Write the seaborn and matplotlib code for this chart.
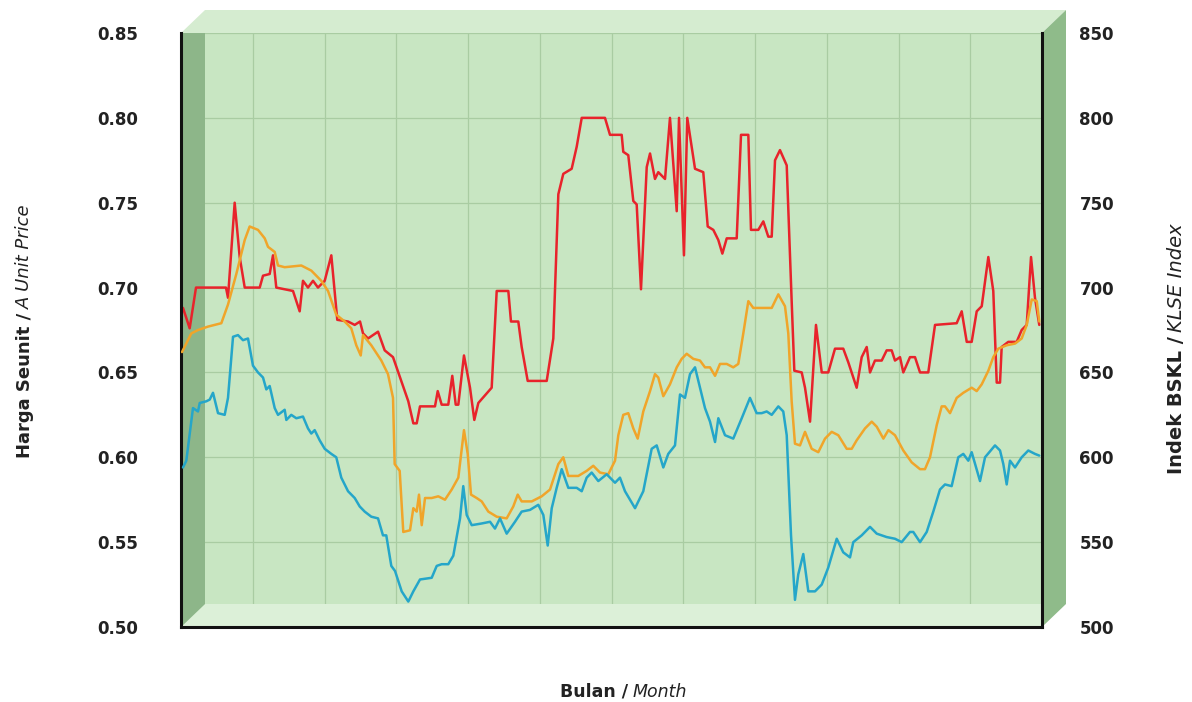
import matplotlib
matplotlib.use("Agg")
import matplotlib.pyplot as plt
from matplotlib.patches import Polygon
import pandas as pd
import seaborn as sns

# ---------------- data ----------------
month_grid = list(range(13))
price_ticks = [0.50, 0.55, 0.60, 0.65, 0.70, 0.75, 0.80, 0.85]
index_ticks = [500, 550, 600, 650, 700, 750, 800, 850]

# unit price (left axis): (month position, price)
unit_price = [
    (0.028, 0.688), (0.121, 0.676), (0.209, 0.700), (0.627, 0.700), (0.655, 0.694),
    (0.748, 0.750), (0.818, 0.718), (0.888, 0.700), (1.097, 0.700), (1.143, 0.707),
    (1.236, 0.708), (1.282, 0.719), (1.328, 0.700), (1.561, 0.698), (1.654, 0.686),
    (1.700, 0.704), (1.770, 0.700), (1.840, 0.704), (1.909, 0.700), (2.003, 0.704),
    (2.095, 0.719), (2.178, 0.681), (2.328, 0.680), (2.421, 0.678), (2.495, 0.680),
    (2.537, 0.673), (2.606, 0.670), (2.746, 0.674), (2.839, 0.663), (2.955, 0.659),
    (3.168, 0.633), (3.238, 0.620), (3.285, 0.620), (3.331, 0.630), (3.540, 0.630),
    (3.578, 0.639), (3.633, 0.631), (3.725, 0.631), (3.781, 0.648), (3.829, 0.631),
    (3.865, 0.631), (3.944, 0.660), (4.028, 0.641), (4.088, 0.622), (4.144, 0.632),
    (4.330, 0.641), (4.400, 0.698), (4.562, 0.698), (4.599, 0.680), (4.701, 0.680),
    (4.748, 0.665), (4.832, 0.645), (5.097, 0.645), (5.189, 0.670), (5.259, 0.755),
    (5.328, 0.767), (5.445, 0.770), (5.515, 0.783), (5.585, 0.800), (5.909, 0.800),
    (5.979, 0.790), (6.142, 0.790), (6.164, 0.780), (6.234, 0.778), (6.304, 0.751),
    (6.351, 0.749), (6.411, 0.699), (6.491, 0.771), (6.537, 0.779), (6.606, 0.764),
    (6.652, 0.768), (6.746, 0.764), (6.815, 0.800), (6.909, 0.745), (6.941, 0.800),
    (7.010, 0.719), (7.056, 0.800), (7.164, 0.770), (7.279, 0.768), (7.341, 0.736),
    (7.419, 0.734), (7.489, 0.728), (7.545, 0.720), (7.606, 0.729), (7.745, 0.729),
    (7.805, 0.790), (7.907, 0.790), (7.944, 0.734), (8.046, 0.734), (8.116, 0.739),
    (8.185, 0.730), (8.233, 0.730), (8.279, 0.775), (8.348, 0.781), (8.442, 0.772),
    (8.511, 0.692), (8.548, 0.651), (8.651, 0.650), (8.697, 0.641), (8.767, 0.621),
    (8.850, 0.678), (8.930, 0.650), (9.021, 0.650), (9.115, 0.664), (9.230, 0.664),
    (9.300, 0.656), (9.417, 0.641), (9.487, 0.659), (9.557, 0.665), (9.603, 0.650),
    (9.672, 0.657), (9.766, 0.657), (9.835, 0.663), (9.905, 0.663), (9.951, 0.657),
    (10.021, 0.659), (10.067, 0.650), (10.160, 0.659), (10.230, 0.659), (10.300, 0.650),
    (10.415, 0.650), (10.509, 0.678), (10.811, 0.679), (10.881, 0.686), (10.951, 0.668),
    (11.020, 0.668), (11.090, 0.686), (11.160, 0.689), (11.252, 0.718), (11.321, 0.698),
    (11.369, 0.644), (11.415, 0.644), (11.438, 0.665), (11.530, 0.668), (11.647, 0.668),
    (11.717, 0.675), (11.787, 0.678), (11.847, 0.718), (11.902, 0.694), (11.962, 0.678),
]

# index series (right axis): (month position, index level)
index_orange = [
    (0.014, 662), (0.144, 673), (0.237, 675), (0.376, 677), (0.562, 679), (0.655, 690),
    (0.771, 708), (0.888, 728), (0.957, 736), (1.073, 734), (1.167, 729), (1.213, 724),
    (1.306, 721), (1.352, 713), (1.445, 712), (1.677, 713), (1.816, 710), (1.955, 704),
    (2.049, 698), (2.164, 684), (2.282, 680), (2.373, 676), (2.443, 666), (2.505, 660),
    (2.537, 672), (2.652, 666), (2.792, 657), (2.885, 649), (2.955, 635), (2.978, 596),
    (3.048, 592), (3.098, 556), (3.192, 557), (3.238, 570), (3.285, 568), (3.317, 578),
    (3.355, 560), (3.401, 576), (3.494, 576), (3.586, 577), (3.679, 575), (3.773, 581),
    (3.865, 588), (3.944, 616), (3.996, 602), (4.042, 578), (4.121, 576), (4.191, 574),
    (4.283, 568), (4.400, 565), (4.539, 564), (4.631, 571), (4.693, 578), (4.748, 574),
    (4.888, 574), (5.027, 577), (5.143, 581), (5.259, 596), (5.328, 600), (5.398, 589),
    (5.537, 589), (5.654, 592), (5.746, 595), (5.840, 591), (5.955, 590), (6.049, 598),
    (6.095, 613), (6.164, 625), (6.234, 626), (6.304, 617), (6.365, 611), (6.443, 627),
    (6.537, 639), (6.606, 649), (6.652, 647), (6.722, 636), (6.815, 643), (6.909, 653),
    (6.978, 658), (7.048, 661), (7.140, 658), (7.233, 657), (7.303, 653), (7.373, 653),
    (7.443, 648), (7.512, 655), (7.606, 655), (7.697, 653), (7.767, 655), (7.837, 673),
    (7.907, 692), (7.976, 688), (8.093, 688), (8.233, 688), (8.325, 696), (8.418, 689),
    (8.464, 673), (8.511, 633), (8.557, 608), (8.627, 607), (8.697, 615), (8.790, 605),
    (8.882, 603), (8.976, 611), (9.069, 615), (9.161, 613), (9.278, 605), (9.348, 605),
    (9.417, 610), (9.533, 617), (9.627, 621), (9.697, 618), (9.789, 611), (9.859, 616),
    (9.951, 613), (10.067, 604), (10.184, 597), (10.300, 593), (10.369, 593), (10.439, 600),
    (10.533, 619), (10.602, 630), (10.648, 630), (10.718, 626), (10.811, 635), (10.903, 638),
    (11.020, 641), (11.090, 639), (11.160, 643), (11.252, 651), (11.321, 659), (11.391, 664),
    (11.508, 666), (11.624, 667), (11.717, 670), (11.787, 678), (11.857, 693), (11.927, 692),
    (11.962, 680),
]

index_blue = [
    (0.028, 594), (0.074, 598), (0.167, 629), (0.237, 627), (0.261, 632), (0.353, 633),
    (0.400, 634), (0.446, 638), (0.516, 626), (0.609, 625), (0.655, 635), (0.725, 671),
    (0.794, 672), (0.864, 669), (0.934, 670), (1.003, 654), (1.073, 650), (1.143, 647),
    (1.189, 640), (1.236, 642), (1.306, 629), (1.352, 625), (1.445, 628), (1.468, 622),
    (1.537, 625), (1.607, 623), (1.700, 624), (1.770, 617), (1.816, 614), (1.863, 616),
    (1.933, 610), (2.003, 605), (2.095, 602), (2.164, 600), (2.234, 588), (2.328, 580),
    (2.421, 576), (2.491, 571), (2.560, 568), (2.652, 565), (2.746, 564), (2.815, 554),
    (2.861, 554), (2.931, 536), (2.983, 533), (3.076, 521), (3.168, 515), (3.238, 521),
    (3.331, 528), (3.494, 529), (3.564, 536), (3.633, 537), (3.725, 537), (3.795, 542),
    (3.889, 564), (3.934, 583), (3.982, 566), (4.052, 560), (4.191, 561), (4.307, 562),
    (4.376, 558), (4.446, 564), (4.539, 555), (4.655, 562), (4.748, 568), (4.864, 569),
    (4.980, 572), (5.050, 566), (5.111, 548), (5.167, 570), (5.236, 582), (5.306, 593),
    (5.398, 582), (5.515, 582), (5.585, 580), (5.654, 588), (5.724, 591), (5.816, 586),
    (5.933, 590), (6.049, 585), (6.118, 588), (6.188, 580), (6.328, 570), (6.443, 580),
    (6.560, 605), (6.630, 607), (6.722, 594), (6.791, 602), (6.885, 607), (6.955, 637),
    (7.024, 635), (7.094, 649), (7.164, 653), (7.233, 641), (7.303, 629), (7.373, 621),
    (7.443, 609), (7.489, 623), (7.582, 613), (7.697, 611), (7.815, 623), (7.930, 635),
    (8.023, 626), (8.093, 626), (8.163, 627), (8.233, 625), (8.325, 630), (8.394, 627),
    (8.442, 613), (8.502, 554), (8.557, 516), (8.603, 531), (8.673, 543), (8.743, 521),
    (8.836, 521), (8.930, 525), (9.021, 535), (9.139, 552), (9.230, 544), (9.324, 541),
    (9.370, 550), (9.487, 554), (9.603, 559), (9.697, 555), (9.835, 553), (9.951, 552),
    (10.044, 550), (10.160, 556), (10.206, 556), (10.300, 550), (10.393, 556), (10.485, 568),
    (10.578, 581), (10.648, 584), (10.741, 583), (10.833, 600), (10.903, 602), (10.973, 598),
    (11.020, 603), (11.136, 586), (11.206, 600), (11.345, 607), (11.415, 604), (11.461, 596),
    (11.508, 584), (11.554, 598), (11.624, 594), (11.717, 600), (11.809, 604), (11.902, 602),
    (11.962, 601),
]

# ---------------- styling ----------------
sns.set_theme(style="white")
plt.rcParams["font.family"] = ["DejaVu Sans"]

RED = "#e8232b"
ORANGE = "#f0a52a"
BLUE = "#25a6c9"
FACE = "#c8e6c2"
WALL_L = "#8db689"
WALL_R = "#8fbb8a"
TOP = "#d5ecd0"
FLOOR = "#dcf0d8"
GRID = "#a9cca2"

fig = plt.figure(figsize=(11.92, 7.02), dpi=100)
ax = fig.add_axes([181 / 1192, 75 / 702, 861 / 1192, 594 / 702])
ax.set_facecolor(FACE)

df_price = pd.DataFrame(unit_price, columns=["month", "value"])
df_orange = pd.DataFrame(index_orange, columns=["month", "value"])
df_blue = pd.DataFrame(index_blue, columns=["month", "value"])

sns.lineplot(data=df_price, x="month", y="value", ax=ax, color=RED, lw=1.8,
             estimator=None, sort=False, zorder=4)
ax.set_xlim(0, 12)
ax.set_ylim(price_ticks[0], price_ticks[-1])
ax.set_xticks(month_grid, labels=[""] * len(month_grid))
ax.set_yticks(price_ticks, labels=[f"{v:.2f}" for v in price_ticks],
              fontsize=12, fontweight="bold", color="#222222")
ax.tick_params(axis="both", length=0)
ax.tick_params(axis="y", pad=31)
ax.set_xlabel("")
ax.set_ylabel("")
ax.set_axisbelow(True)
ax.grid(True, color=GRID, lw=0.9)

ax2 = ax.twinx()
sns.lineplot(data=df_orange, x="month", y="value", ax=ax2, color=ORANGE, lw=1.8,
             estimator=None, sort=False, zorder=3)
sns.lineplot(data=df_blue, x="month", y="value", ax=ax2, color=BLUE, lw=1.8,
             estimator=None, sort=False, zorder=3)
ax2.set_ylim(index_ticks[0], index_ticks[-1])
ax2.set_yticks(index_ticks, labels=[str(v) for v in index_ticks],
               fontsize=12, fontweight="bold", color="#222222")
ax2.tick_params(axis="y", length=0, pad=27)
ax2.set_ylabel("")
ax2.set_xlabel("")
ax2.grid(False)
for s in ax2.spines.values():
    s.set_visible(False)

# pseudo-3D box decoration (axes-fraction geometry)
dx, dy = 24 / 861, 23 / 594
T = ax.transAxes
decor = [
    ([(0, 1), (dx, 1 + dy), (1 + dx, 1 + dy), (1, 1)], TOP),
    ([(1, 0), (1 + dx, dy), (1 + dx, 1 + dy), (1, 1)], WALL_R),
    ([(0, 0), (1, 0), (1, dy), (dx, dy)], FLOOR),
    ([(0, 0), (dx, dy), (dx, 1), (0, 1)], WALL_L),
]
for pts, col in decor:
    ax.add_patch(Polygon(pts, closed=True, transform=T, facecolor=col,
                         edgecolor="none", clip_on=False, zorder=1))

for side in ["left", "bottom", "right"]:
    ax.spines[side].set_visible(True)
    ax.spines[side].set_color("#111111")
    ax.spines[side].set_linewidth(2.2)
    ax.spines[side].set_zorder(5)
ax.spines["top"].set_visible(False)

# axis titles (bold Malay part + italic English part)
LBL = 12.5
t_x = fig.text(628 / 1192, (702 - 697) / 702, "Bulan /", ha="right", va="baseline",
               fontsize=LBL, fontweight="bold", color="#222222")
ax.annotate("Month", xy=(1.0, (702 - 697) / 702), xycoords=(t_x, "figure fraction"),
            xytext=(3, 0), textcoords="offset points", ha="left", va="baseline",
            fontsize=LBL, fontstyle="italic", color="#222222", annotation_clip=False)

LBL_L = 13
t_l = fig.text(30 / 1192, (702 - 458) / 702, "Harga Seunit /", rotation=90,
               rotation_mode="anchor", ha="left", va="baseline",
               fontsize=LBL_L, fontweight="bold", color="#222222")
ax.annotate("A Unit Price", xy=(30 / 1192, 1.0), xycoords=("figure fraction", t_l),
            xytext=(0, 3), textcoords="offset points", rotation=90,
            rotation_mode="anchor", ha="left", va="baseline",
            fontsize=LBL_L, fontstyle="italic", color="#222222", annotation_clip=False)

LBL_R = 14
t_r = fig.text(1182 / 1192, (702 - 474) / 702, "Indek BSKL /", rotation=90,
               rotation_mode="anchor", ha="left", va="baseline",
               fontsize=LBL_R, fontweight="bold", color="#222222")
ax.annotate("KLSE Index", xy=(1182 / 1192, 1.0), xycoords=("figure fraction", t_r),
            xytext=(0, 3), textcoords="offset points", rotation=90,
            rotation_mode="anchor", ha="left", va="baseline",
            fontsize=LBL_R, fontstyle="italic", color="#222222", annotation_clip=False)

fig.savefig("out.png", dpi=100, facecolor="white")
